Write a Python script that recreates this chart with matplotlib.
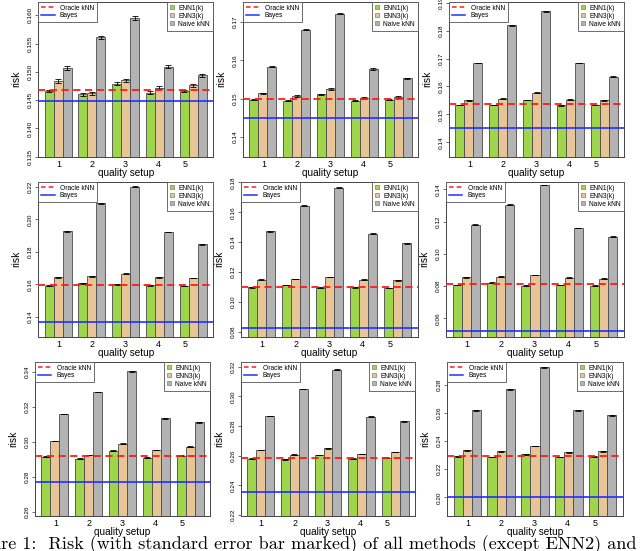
import matplotlib
matplotlib.use("Agg")
import matplotlib.pyplot as plt
from matplotlib.lines import Line2D
from matplotlib.patches import Patch
import numpy as np

# risk per panel (3x3 grid, row by row), quality setups 1..5
SETUPS = ["1", "2", "3", "4", "5"]

ENN1_RISK = [
    [0.1466, 0.1460, 0.1479, 0.1463, 0.1466],
    [0.1497, 0.1495, 0.1512, 0.1495, 0.1498],
    [0.1534, 0.1534, 0.1551, 0.1532, 0.1534],
    [0.1592, 0.1606, 0.1600, 0.1594, 0.1590],
    [0.1097, 0.1112, 0.1095, 0.1097, 0.1093],
    [0.0806, 0.0821, 0.0802, 0.0806, 0.0802],
    [0.2914, 0.2903, 0.2949, 0.2909, 0.2920],
    [0.2580, 0.2576, 0.2605, 0.2580, 0.2587],
    [0.2292, 0.2287, 0.2306, 0.2287, 0.2290],
]
ENN3_RISK = [
    [0.1484, 0.1462, 0.1485, 0.1472, 0.1476],
    [0.1514, 0.1507, 0.1526, 0.1502, 0.1505],
    [0.1551, 0.1556, 0.1577, 0.1553, 0.1551],
    [0.1643, 0.1651, 0.1665, 0.1643, 0.1639],
    [0.1148, 0.1152, 0.1167, 0.1148, 0.1143],
    [0.0854, 0.0858, 0.0868, 0.0852, 0.0846],
    [0.3004, 0.2924, 0.2987, 0.2952, 0.2971],
    [0.2638, 0.2607, 0.2650, 0.2611, 0.2625],
    [0.2335, 0.2328, 0.2366, 0.2320, 0.2328],
]
NAIVE_RISK = [
    [0.1507, 0.1561, 0.1595, 0.1509, 0.1494],
    [0.1584, 0.1680, 0.1722, 0.1577, 0.1553],
    [0.1684, 0.1819, 0.1869, 0.1684, 0.1635],
    [0.1926, 0.2098, 0.2200, 0.1922, 0.1846],
    [0.1472, 0.1644, 0.1766, 0.1456, 0.1392],
    [0.1181, 0.1305, 0.1427, 0.1160, 0.1106],
    [0.3158, 0.3284, 0.3402, 0.3133, 0.3110],
    [0.2867, 0.3049, 0.3180, 0.2862, 0.2833],
    [0.2620, 0.2769, 0.2926, 0.2620, 0.2584],
]
# standard errors (ENN1, ENN3, naive) per panel
STD_ERR = [
    [0.00025, 0.00030, 0.00030],
    [0.00015, 0.00020, 0.00020],
    [0.00012, 0.00015, 0.00015],
    [0.00025, 0.00025, 0.00025],
    [0.00025, 0.00025, 0.00025],
    [0.00025, 0.00025, 0.00025],
    [0.00025, 0.00025, 0.00025],
    [0.00025, 0.00025, 0.00025],
    [0.00025, 0.00025, 0.00025],
]
ORACLE_RISK = [0.1468, 0.1499, 0.1537, 0.1597, 0.1101, 0.0810, 0.2918, 0.2587, 0.2294]
BAYES_RISK = [0.1449, 0.1450, 0.1450, 0.1369, 0.0826, 0.0524, 0.2768, 0.2353, 0.2005]

Y_TICKS = [
    [0.135, 0.140, 0.145, 0.150, 0.155, 0.160],
    [0.14, 0.15, 0.16, 0.17],
    [0.14, 0.15, 0.16, 0.17, 0.18, 0.19],
    [0.14, 0.16, 0.18, 0.20, 0.22],
    [0.08, 0.10, 0.12, 0.14, 0.16, 0.18],
    [0.06, 0.08, 0.10, 0.12, 0.14],
    [0.26, 0.28, 0.30, 0.32, 0.34],
    [0.22, 0.24, 0.26, 0.28, 0.30, 0.32],
    [0.20, 0.22, 0.24, 0.26, 0.28],
]
Y_FMT = ["%.3f"] + ["%.2f"] * 8
Y_LIMS = [
    (0.1350, 0.1624), (0.1349, 0.1753), (0.1348, 0.1904),
    (0.1278, 0.2232), (0.0766, 0.1805), (0.0486, 0.1447),
    (0.2575, 0.3457), (0.2193, 0.3234), (0.1867, 0.2966),
]

CAPTION = "Figure 1:  Risk (with standard error bar marked) of all methods (except ENN2) and"

# layout in pixels: (left, top, right, bottom)
W, H = 640, 551
PANEL_BOXES = [
    (38.3, 1.7, 213, 156.7), (243, 1.7, 418, 156.7), (449, 1.7, 624, 156.7),
    (38.3, 181.7, 213, 336.7), (241, 181.7, 418, 336.7), (446, 181.7, 624, 336.7),
    (35, 361.7, 210, 516), (241, 361.7, 415, 516), (447, 361.7, 623, 516),
]
LABEL_POS = [2.3, 6.05, 9.7, 13.35, 16.4]

GREEN = "#9fd54a"
TAN = "#e8c596"
GRAY = "#b3b3b3"
EDGE = "#4a4a4a"
FONT = "Liberation Sans"


def draw_panel(ax, i):
    groups = np.arange(len(SETUPS))
    left = 0.75 + groups * 3.75
    series = [ENN1_RISK[i], ENN3_RISK[i], NAIVE_RISK[i]]
    colors = [GREEN, TAN, GRAY]
    for j, (vals, col) in enumerate(zip(series, colors)):
        x = left + j + 0.5
        ax.bar(x, vals, width=1.0, color=col, edgecolor=EDGE, linewidth=0.6, zorder=2)
        ax.errorbar(x, vals, yerr=STD_ERR[i][j], fmt="none", ecolor="black",
                    elinewidth=0.6, capsize=2.2, capthick=0.6, zorder=3)
    ax.axhline(BAYES_RISK[i], color="#2030ff", linewidth=1.2, zorder=4)
    ax.axhline(ORACLE_RISK[i], color="#ff1a1a", linewidth=1.3, dashes=(4, 2.5), zorder=5)

    ax.set_xlim(0.03, 19.47)
    ax.set_ylim(*Y_LIMS[i])
    ax.set_yticks(Y_TICKS[i])
    ax.set_yticklabels([Y_FMT[i] % t for t in Y_TICKS[i]], rotation=90,
                       va="center", family=FONT)
    ax.tick_params(axis="y", labelsize=4.6, length=2.5, width=0.5, pad=1.2,
                   color="#333333")
    ax.set_xticks(LABEL_POS)
    ax.set_xticklabels(SETUPS, family=FONT)
    ax.tick_params(axis="x", labelsize=6.5, length=0, pad=2.2)
    for sp in ax.spines.values():
        sp.set_color("#444444")
        sp.set_linewidth(0.7)

    ax.set_ylabel("risk", family=FONT, fontsize=7.5)
    ax.yaxis.set_label_coords(-0.095, 0.5)
    ax.set_xlabel("quality setup", family=FONT, fontsize=7.2)
    ax.xaxis.set_label_coords(0.5, -0.104)
    ax.xaxis.label.set_va("center")

    line_handles = [
        Line2D([], [], color="#ff1a1a", linewidth=1.1, dashes=(3, 2)),
        Line2D([], [], color="#2030ff", linewidth=1.1),
    ]
    leg1 = ax.legend(line_handles, ["Oracle kNN", "Bayes"], loc="upper left",
                     borderaxespad=0, fancybox=False, framealpha=1,
                     edgecolor="#555555", prop={"family": FONT, "size": 4.8},
                     handlelength=2.0, handletextpad=0.8, labelspacing=0.05,
                     borderpad=0.45)
    leg1.get_frame().set_linewidth(0.6)
    leg1.set_zorder(10)
    ax.add_artist(leg1)

    box_handles = [Patch(facecolor=c, edgecolor="#666666", linewidth=0.4) for c in colors]
    leg2 = ax.legend(box_handles, ["ENN1(k)", "ENN3(k)", "Naive kNN"], loc="upper right",
                     borderaxespad=0, fancybox=False, framealpha=1,
                     edgecolor="#555555", prop={"family": FONT, "size": 4.8},
                     handlelength=0.55, handleheight=0.55, handletextpad=0.7,
                     labelspacing=0.15, borderpad=0.45)
    leg2.get_frame().set_linewidth(0.6)
    leg2.set_zorder(10)


def main():
    fig = plt.figure(figsize=(W / 100, H / 100), dpi=100)
    for i, (l, t, r, b) in enumerate(PANEL_BOXES):
        ax = fig.add_axes([l / W, 1 - b / H, (r - l) / W, (b - t) / H])
        draw_panel(ax, i)
    fig.text(-35 / W, 1.5 / H, CAPTION, family="cmr10", fontsize=13.1,
             ha="left", va="baseline")
    fig.savefig("out.png", dpi=100)
    plt.close(fig)


if __name__ == "__main__":
    main()
